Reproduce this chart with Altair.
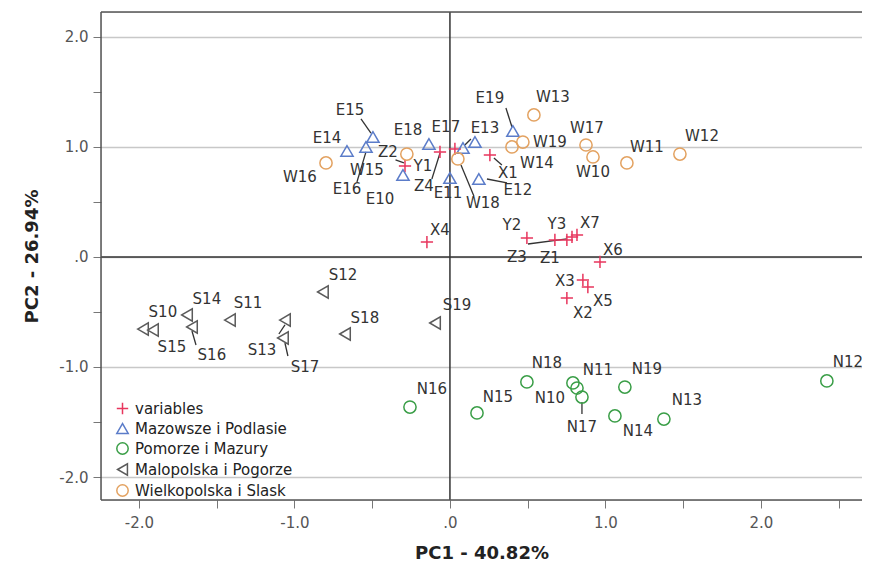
import altair as alt
import pandas as pd

groups = ["variables", "Mazowsze i Podlasie", "Pomorze i Mazury",
          "Malopolska i Pogorze", "Wielkopolska i Slask"]
colors = ["#e8365d", "#5b7cc9", "#3a9e47", "#5a5a5a", "#e3a261"]
shapes = ["M-1,0L1,0M0,-1L0,1", "triangle-up", "circle", "triangle-left", "circle"]

# variables (red crosses)
var_names = ["X1", "X2", "X3", "X4", "X5", "X6", "X7", "Y1", "Y2", "Y3", "Z1", "Z2", "Z3", "Z4"]
var_x = [0.257, 0.752, 0.855, -0.148, 0.887, 0.965, 0.817, -0.289, 0.495, 0.675, 0.785, 0.032, 0.752, -0.064]
var_y = [0.927, -0.373, -0.209, 0.136, -0.273, -0.045, 0.200, 0.827, 0.173, 0.155, 0.182, 0.982, 0.155, 0.955]
var_lx = [0.373, 0.855, 0.740, -0.064, 0.984, 1.048, 0.900, -0.174, 0.399, 0.688, 0.643, -0.399, 0.431, -0.167]
var_ly = [0.764, -0.509, -0.218, 0.245, -0.400, 0.064, 0.309, 0.827, 0.291, 0.300, -0.009, 0.955, 0.000, 0.645]

# Mazowsze i Podlasie
maz_names = ["E10", "E11", "E12", "E13", "E14", "E15", "E16", "E17", "E18", "E19"]
maz_x = [-0.302, 0.000, 0.186, 0.161, -0.662, -0.495, -0.540, 0.084, -0.135, 0.405]
maz_y = [0.745, 0.718, 0.709, 1.045, 0.964, 1.091, 1.000, 0.991, 1.027, 1.145]
maz_lx = [-0.450, -0.013, 0.437, 0.225, -0.791, -0.643, -0.662, -0.026, -0.270, 0.257]
maz_ly = [0.527, 0.582, 0.609, 1.173, 1.082, 1.336, 0.618, 1.182, 1.155, 1.445]

# Pomorze i Mazury
pom_names = ["N10", "N11", "N12", "N13", "N14", "N15", "N16", "N17", "N18", "N19"]
pom_x = [0.817, 0.791, 2.424, 1.376, 1.061, 0.174, -0.257, 0.849, 0.495, 1.125]
pom_y = [-1.191, -1.145, -1.127, -1.473, -1.445, -1.418, -1.364, -1.273, -1.136, -1.182]
pom_lx = [0.643, 0.952, 2.559, 1.524, 1.209, 0.309, -0.116, 0.849, 0.624, 1.267]
pom_ly = [-1.282, -1.027, -0.955, -1.300, -1.582, -1.273, -1.200, -1.545, -0.964, -1.018]

# Malopolska i Pogorze
mal_names = ["S10", "S11", "S12", "S13", "S14", "S15", "S16", "S17", "S18", "S19"]
mal_x = [-1.974, -1.415, -0.817, -1.061, -1.691, -1.910, -1.659, -1.074, -0.675, -0.096]
mal_y = [-0.655, -0.573, -0.318, -0.573, -0.527, -0.664, -0.636, -0.736, -0.700, -0.600]
mal_lx = [-1.846, -1.299, -0.688, -1.209, -1.563, -1.788, -1.531, -0.932, -0.547, 0.045]
mal_ly = [-0.500, -0.418, -0.164, -0.845, -0.382, -0.818, -0.891, -1.000, -0.555, -0.436]

# Wielkopolska i Slask
wie_names = ["W10", "W11", "W12", "W13", "W14", "W15", "W16", "W17", "W18", "W19"]
wie_x = [0.920, 1.138, 1.479, 0.540, 0.399, -0.277, -0.797, 0.875, 0.051, 0.469]
wie_y = [0.909, 0.855, 0.936, 1.291, 1.000, 0.936, 0.855, 1.018, 0.891, 1.045]
wie_lx = [0.920, 1.267, 1.621, 0.662, 0.559, -0.534, -0.965, 0.881, 0.212, 0.643]
wie_ly = [0.773, 1.000, 1.100, 1.455, 0.855, 0.791, 0.727, 1.173, 0.491, 1.045]

# leader lines (start / end in PC units)
lead_x1 = [-0.572, -0.598, 0.360, 0.154, 0.238, -0.116, 0.283, 0.502, -1.659, -1.061, -1.100, 0.849, 0.096, -0.350]
lead_y1 = [1.255, 0.682, 1.355, 0.555, 0.709, 0.709, 0.900, 0.118, -0.673, -0.782, -0.700, -1.318, 1.018, 0.882]
lead_x2 = [-0.508, -0.540, 0.399, 0.071, 0.367, -0.064, 0.334, 0.752, -1.633, -1.042, -1.061, 0.849, 0.135, -0.296]
lead_y2 = [1.127, 0.955, 1.182, 0.836, 0.673, 0.945, 0.836, 0.164, -0.800, -0.900, -0.618, -1.427, 1.073, 0.855]

rows = []
for g, n, xs, ys, lxs, lys in [
    (groups[0], var_names, var_x, var_y, var_lx, var_ly),
    (groups[1], maz_names, maz_x, maz_y, maz_lx, maz_ly),
    (groups[2], pom_names, pom_x, pom_y, pom_lx, pom_ly),
    (groups[3], mal_names, mal_x, mal_y, mal_lx, mal_ly),
    (groups[4], wie_names, wie_x, wie_y, wie_lx, wie_ly),
]:
    for i in range(len(n)):
        rows.append({"name": n[i], "group": g, "x": xs[i], "y": ys[i], "lx": lxs[i], "ly": lys[i]})
df = pd.DataFrame(rows)
leads = pd.DataFrame({"x1": lead_x1, "y1": lead_y1, "x2": lead_x2, "y2": lead_y2})

FONT = "DejaVu Sans"
W, H = 761, 488
xscale = alt.Scale(domain=[-2.244, 2.650], nice=False, zero=False)
yscale = alt.Scale(domain=[-2.209, 2.227], nice=False, zero=False)

tick_vals = [-2.0, -1.5, -1.0, -0.5, 0.0, 0.5, 1.0, 1.5, 2.0, 2.5]
ytick_vals = [-2.0, -1.5, -1.0, -0.5, 0.0, 0.5, 1.0, 1.5, 2.0]
lab_expr = ("datum.value == 0 ? '.0' : (abs(datum.value % 1) < 0.001 ? "
            "((datum.value < 0 ? '-' : '') + format(abs(datum.value), '.1f')) : '')")

xaxis = alt.Axis(values=tick_vals, labelExpr=lab_expr, grid=False, domain=False,
                 tickSize=8, tickColor="#777", labelPadding=7, labelFontSize=15,
                 labelColor="#555", labelFont=FONT, title="PC1 - 40.82%",
                 titleFont=FONT, titleFontSize=18, titleFontWeight="bold",
                 titleColor="#222", titlePadding=14)
yaxis = alt.Axis(values=ytick_vals, labelExpr=lab_expr, domain=False,
                 grid=True, gridColor="#c8c8c8", gridWidth=1.5,
                 gridOpacity={"condition": {"test": "abs(datum.value % 1) > 0.001", "value": 0}, "value": 1},
                 tickSize=8, tickColor="#777", labelPadding=5, labelFontSize=15,
                 labelColor="#555", labelFont=FONT, title="PC2 - 26.94%",
                 titleFont=FONT, titleFontSize=18, titleFontWeight="bold",
                 titleColor="#222", titlePadding=17)

base = alt.Chart(df)

points = base.mark_point(filled=False, strokeWidth=1.5, size=150, opacity=1).encode(
    x=alt.X("x:Q", scale=xscale, axis=xaxis),
    y=alt.Y("y:Q", scale=yscale, axis=yaxis),
    color=alt.Color("group:N", scale=alt.Scale(domain=groups, range=colors),
                    legend=alt.Legend(title=None, orient="none", legendX=14, legendY=389,
                                      labelFont=FONT, labelFontSize=15, labelColor="#222",
                                      symbolStrokeWidth=1.5, symbolSize=130, rowPadding=2,
                                      labelOffset=5, labelLimit=300,
                                      symbolFillColor="transparent")),
    shape=alt.Shape("group:N", scale=alt.Scale(domain=groups, range=shapes), legend=None),
)

labels = base.mark_text(font=FONT, fontSize=15, color="#333", align="center", baseline="middle").encode(
    x=alt.X("lx:Q", scale=xscale),
    y=alt.Y("ly:Q", scale=yscale),
    text="name:N",
)

leaders = alt.Chart(leads).mark_rule(color="#333", strokeWidth=1.3).encode(
    x=alt.X("x1:Q", scale=xscale), y=alt.Y("y1:Q", scale=yscale),
    x2="x2:Q", y2="y2:Q",
)

zero_df = pd.DataFrame({"v": [0.0]})
vline = alt.Chart(zero_df).mark_rule(color="#333", strokeWidth=1.5).encode(x=alt.X("v:Q", scale=xscale))
hline = alt.Chart(zero_df).mark_rule(color="#333", strokeWidth=1.5).encode(y=alt.Y("v:Q", scale=yscale))

# frame on left, top and bottom (right side is open, as in the original crop)
frame_left = alt.Chart(zero_df).mark_rule(color="#555", strokeWidth=1.5).encode(
    x=alt.value(0), y=alt.value(0), y2=alt.value(H))
frame_top = alt.Chart(zero_df).mark_rule(color="#555", strokeWidth=1.5).encode(
    x=alt.value(0), x2=alt.value(W), y=alt.value(0))
frame_bottom = alt.Chart(zero_df).mark_rule(color="#555", strokeWidth=1.5).encode(
    x=alt.value(0), x2=alt.value(W), y=alt.value(H))

chart = alt.layer(vline, hline, frame_left, frame_top, frame_bottom, leaders, points, labels).properties(
    width=W, height=H,
    autosize=alt.AutoSizeParams(type="none"),
    padding={"left": 93, "top": 4, "right": 0, "bottom": 63},
).configure_view(stroke=None).configure(background="white")

chart.save("out.html", embed_options={"renderer": "svg", "actions": False})
